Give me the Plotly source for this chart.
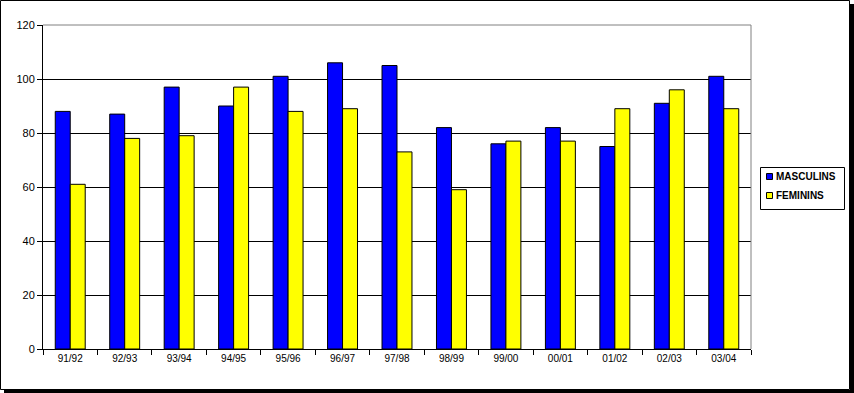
import plotly.graph_objects as go

seasons = ["91/92", "92/93", "93/94", "94/95", "95/96", "96/97", "97/98",
           "98/99", "99/00", "00/01", "01/02", "02/03", "03/04"]
masculins = [88, 87, 97, 90, 101, 106, 105, 82, 76, 82, 75, 91, 101]
feminins = [61, 78, 79, 97, 88, 89, 73, 59, 77, 77, 89, 96, 89]
y_ticks = [0, 20, 40, 60, 80, 100, 120]
series_names = ["MASCULINS", "FEMININS"]
series_colors = ["#0000FF", "#FFFF00"]

W, H = 854, 393
L, R, T, B = 43, 103, 25, 44
PW, PH = W - L - R, H - T - B


def px_x(x):
    return (x - L) / PW


def px_y(y):
    return (H - B - y) / PH


FONT = "Liberation Sans, Arial, sans-serif"

fig = go.Figure()
for name, vals, col in zip(series_names, [masculins, feminins], series_colors):
    fig.add_trace(go.Bar(name=name, x=seasons, y=vals, showlegend=False,
                         marker=dict(color=col, line=dict(color="black", width=1))))

shapes = [
    # outer frame
    dict(type="rect", xref="paper", yref="paper",
         x0=px_x(0.5), x1=px_x(849.5), y0=px_y(0.5), y1=px_y(389.5),
         line=dict(color="black", width=1), fillcolor="rgba(0,0,0,0)", layer="below"),
    # shadow right
    dict(type="rect", xref="paper", yref="paper",
         x0=px_x(850), x1=px_x(854), y0=px_y(4), y1=px_y(393),
         line=dict(width=0), fillcolor="black", layer="below"),
    # shadow bottom
    dict(type="rect", xref="paper", yref="paper",
         x0=px_x(4), x1=px_x(854), y0=px_y(390), y1=px_y(393),
         line=dict(width=0), fillcolor="black", layer="below"),
    # grey top and right plot border
    dict(type="line", xref="paper", yref="paper", x0=0, x1=1, y0=1, y1=1,
         line=dict(color="#808080", width=1), layer="above"),
    dict(type="line", xref="paper", yref="paper", x0=1, x1=1, y0=0, y1=1,
         line=dict(color="#808080", width=1), layer="above"),
    # legend box
    dict(type="rect", xref="paper", yref="paper",
         x0=px_x(760.5), x1=px_x(844.5), y0=px_y(167.5), y1=px_y(209.5),
         line=dict(color="black", width=1), fillcolor="white", layer="above"),
]
annotations = []
for i, (name, col) in enumerate(zip(series_names, series_colors)):
    top = 173.5 + i * 19
    shapes.append(dict(type="rect", xref="paper", yref="paper",
                       x0=px_x(766.5), x1=px_x(772.5), y0=px_y(top), y1=px_y(top + 6),
                       line=dict(color="black", width=1), fillcolor=col, layer="above"))
    annotations.append(dict(xref="paper", yref="paper", x=px_x(774), y=px_y(top + 3),
                            xanchor="left", yanchor="middle", showarrow=False,
                            text="<b>" + name + "</b>",
                            font=dict(family=FONT, size=10, color="black")))

fig.update_layout(
    width=W, height=H,
    margin=dict(l=L, r=R, t=T, b=B, autoexpand=False),
    paper_bgcolor="white", plot_bgcolor="white",
    barmode="group", bargap=0.45, bargroupgap=0,
    font=dict(family=FONT, size=11, color="black"),
    showlegend=False,
    shapes=shapes,
    annotations=annotations,
)
fig.update_xaxes(type="category", tickson="boundaries", ticks="outside", ticklen=5,
                 tickcolor="black", showline=True, linecolor="black", linewidth=1,
                 showgrid=False, tickfont=dict(size=10), fixedrange=True)
fig.update_yaxes(range=[0, 120], tickvals=y_ticks, ticks="outside", ticklen=5,
                 tickcolor="black", showline=True, linecolor="black", linewidth=1,
                 showgrid=True, gridcolor="black", gridwidth=1, zeroline=False,
                 tickfont=dict(size=11), fixedrange=True)

fig.write_html("out.html", config={"displayModeBar": False},
               post_script="document.body.style.margin='0';document.body.style.overflow='hidden';")
